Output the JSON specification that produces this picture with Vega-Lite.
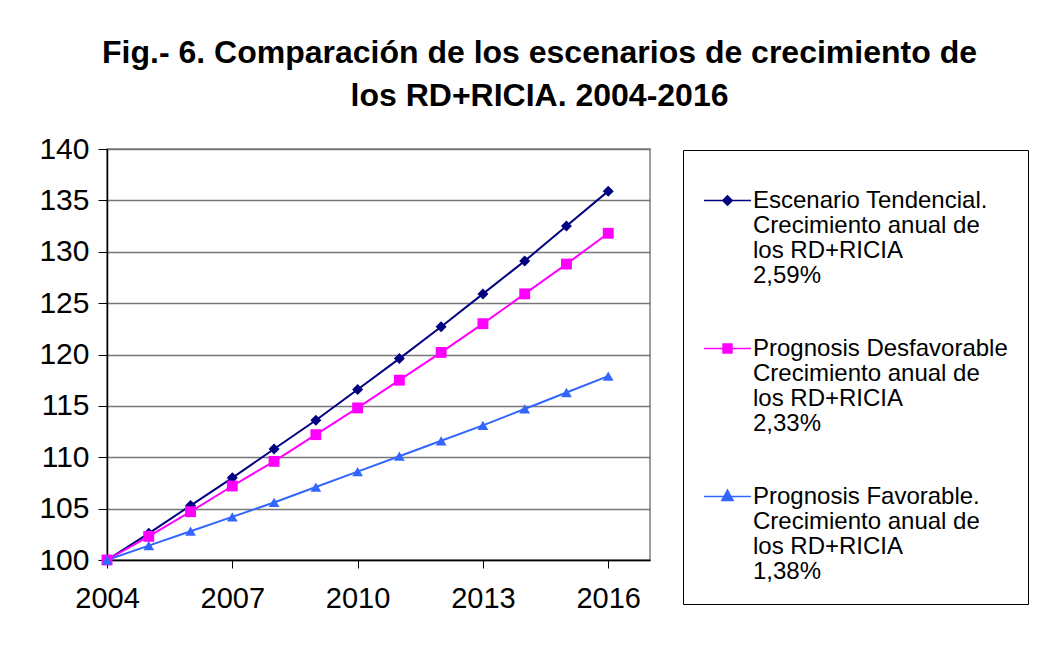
{
  "$schema": "https://vega.github.io/schema/vega-lite/v6.json",
  "width": 543,
  "height": 411,
  "autosize": "none",
  "padding": {"left": 107, "top": 149, "right": 393, "bottom": 95},
  "background": "white",
  "config": {
    "font": "Liberation Sans",
    "view": {"stroke": "#808080", "strokeWidth": 1.5}
  },
  "title": {
    "text": ["Fig.- 6. Comparación de los escenarios de crecimiento de", "los RD+RICIA. 2004-2016"],
    "fontSize": 32,
    "fontWeight": "bold",
    "font": "Liberation Sans",
    "color": "black",
    "lineHeight": 43,
    "anchor": "middle",
    "frame": "group",
    "dx": 161,
    "offset": 21
  },
  "data": {
    "values": [
      {"s": "T", "year": 2004, "v": 100},
      {"s": "T", "year": 2005, "v": 102.6},
      {"s": "T", "year": 2006, "v": 105.3},
      {"s": "T", "year": 2007, "v": 108.0},
      {"s": "T", "year": 2008, "v": 110.8},
      {"s": "T", "year": 2009, "v": 113.6},
      {"s": "T", "year": 2010, "v": 116.6},
      {"s": "T", "year": 2011, "v": 119.6},
      {"s": "T", "year": 2012, "v": 122.7},
      {"s": "T", "year": 2013, "v": 125.9},
      {"s": "T", "year": 2014, "v": 129.1},
      {"s": "T", "year": 2015, "v": 132.5},
      {"s": "T", "year": 2016, "v": 135.9},
      {"s": "D", "year": 2004, "v": 100},
      {"s": "D", "year": 2005, "v": 102.3},
      {"s": "D", "year": 2006, "v": 104.7},
      {"s": "D", "year": 2007, "v": 107.2},
      {"s": "D", "year": 2008, "v": 109.6},
      {"s": "D", "year": 2009, "v": 112.2},
      {"s": "D", "year": 2010, "v": 114.8},
      {"s": "D", "year": 2011, "v": 117.5},
      {"s": "D", "year": 2012, "v": 120.2},
      {"s": "D", "year": 2013, "v": 123.0},
      {"s": "D", "year": 2014, "v": 125.9},
      {"s": "D", "year": 2015, "v": 128.8},
      {"s": "D", "year": 2016, "v": 131.8},
      {"s": "F", "year": 2004, "v": 100},
      {"s": "F", "year": 2005, "v": 101.4},
      {"s": "F", "year": 2006, "v": 102.8},
      {"s": "F", "year": 2007, "v": 104.2},
      {"s": "F", "year": 2008, "v": 105.6},
      {"s": "F", "year": 2009, "v": 107.1},
      {"s": "F", "year": 2010, "v": 108.6},
      {"s": "F", "year": 2011, "v": 110.1},
      {"s": "F", "year": 2012, "v": 111.6},
      {"s": "F", "year": 2013, "v": 113.1},
      {"s": "F", "year": 2014, "v": 114.7},
      {"s": "F", "year": 2015, "v": 116.3},
      {"s": "F", "year": 2016, "v": 117.9}
    ]
  },
  "encoding": {
    "x": {
      "field": "year",
      "type": "quantitative",
      "scale": {"domain": [2004, 2017], "nice": false, "zero": false},
      "axis": {
        "values": [2004, 2007, 2010, 2013, 2016],
        "format": "d",
        "title": null,
        "grid": false,
        "labelFontSize": 29,
        "labelColor": "black",
        "labelFlush": false,
        "labelPadding": 16,
        "tickSize": 8,
        "tickColor": "black",
        "domainColor": "black",
        "domainWidth": 1.5
      }
    },
    "y": {
      "field": "v",
      "type": "quantitative",
      "scale": {"domain": [100, 140], "nice": false, "zero": false},
      "axis": {
        "values": [100, 105, 110, 115, 120, 125, 130, 135, 140],
        "title": null,
        "grid": true,
        "gridColor": "#777777",
        "gridWidth": 1.5,
        "labelFontSize": 30,
        "labelColor": "black",
        "labelPadding": 9,
        "tickSize": 9,
        "tickColor": "black",
        "domainColor": "black",
        "domainWidth": 1.5
      }
    }
  },
  "layer": [
    {
      "mark": {"type": "line", "strokeWidth": 2},
      "encoding": {
        "color": {
          "field": "s",
          "type": "nominal",
          "scale": {"domain": ["T", "D", "F"], "range": ["#000080", "#FF00FF", "#3366FF"]},
          "legend": {
            "orient": "none",
            "legendX": 576,
            "legendY": 1,
            "title": " ",
            "titleFontSize": 4,
            "titlePadding": 2,
            "padding": 20,
            "strokeColor": "black",
            "fillColor": "white",
            "labelFontSize": 24,
            "labelColor": "black",
            "labelLimit": 400,
            "labelOffset": 1,
            "rowPadding": 36,
            "symbolSize": 2209,
            "symbolStrokeWidth": 1.5,
            "labelExpr": "datum.value === 'T' ? ['Escenario Tendencial.', 'Crecimiento anual de', 'los RD+RICIA', '2,59%'] : datum.value === 'D' ? ['Prognosis Desfavorable', 'Crecimiento anual de', 'los RD+RICIA', '2,33%'] : ['Prognosis Favorable.', 'Crecimiento anual de', 'los RD+RICIA', '1,38%']",
            "encode": {
              "symbols": {
                "update": {
                  "shape": {"signal": "datum.value === 'T' ? 'M-1,0H1M0,-0.2L0.2,0L0,0.2L-0.2,0Z' : datum.value === 'D' ? 'M-1,0H1M-0.19,-0.19H0.19V0.19H-0.19Z' : 'M-1,0H1M0,-0.27L0.24,0.17L-0.24,0.17Z'"},
                  "fill": {"signal": "scale('color', datum.value)"},
                  "stroke": {"signal": "scale('color', datum.value)"}
                }
              },
              "labels": {
                "update": {
                  "lineHeight": {"value": 25}
                }
              }
            }
          }
        }
      }
    },
    {
      "mark": {"type": "point", "filled": true, "opacity": 1},
      "encoding": {
        "color": {"field": "s", "type": "nominal", "legend": null},
        "shape": {
          "field": "s",
          "type": "nominal",
          "scale": {"domain": ["T", "D", "F"], "range": ["diamond", "square", "triangle-up"]},
          "legend": null
        },
        "size": {
          "field": "s",
          "type": "nominal",
          "scale": {"domain": ["T", "D", "F"], "range": [121, 115, 150]},
          "legend": null
        }
      }
    }
  ],
  "resolve": {"legend": {"color": "independent"}}
}
